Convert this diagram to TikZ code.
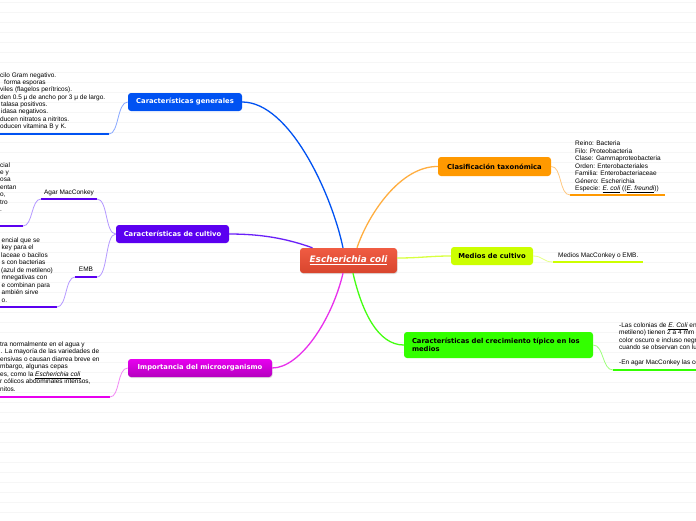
\documentclass[tikz,border=0pt]{standalone}
\usepackage{fontspec}
\setmainfont{Liberation Sans}
\newfontfamily\boxfont{DejaVu Sans}
\usetikzlibrary{shadows}
\definecolor{cblue}{HTML}{0052F2}
\definecolor{cblueS}{HTML}{88A8FF}
\definecolor{cpurple}{HTML}{5B00F0}
\definecolor{cpurpleC}{HTML}{6A20F8}
\definecolor{cpurpleS}{HTML}{B498FF}
\definecolor{cmagA}{HTML}{E800F0}
\definecolor{cmagB}{HTML}{B400BE}
\definecolor{cmagC}{HTML}{E830EC}
\definecolor{cmagS}{HTML}{F288F5}
\definecolor{corange}{HTML}{FF9900}
\definecolor{corangeC}{HTML}{FFAE40}
\definecolor{corangeS}{HTML}{FFC880}
\definecolor{cyg}{HTML}{CCFF00}
\definecolor{cygC}{HTML}{D8FF40}
\definecolor{cygS}{HTML}{E6FF88}
\definecolor{cgreen}{HTML}{33FF00}
\definecolor{cgreenC}{HTML}{44FF11}
\definecolor{cgreenS}{HTML}{9CFF7A}
\definecolor{credA}{HTML}{F05C43}
\definecolor{credB}{HTML}{D8452D}
\begin{document}
\begin{tikzpicture}[x=1pt,y=-1pt,
  box/.style={rounded corners=3pt, inner sep=0pt, align=center,
    font={\boxfont\bfseries\fontsize{6.8}{8}\selectfont}},
  body/.style={anchor=base west, inner sep=0pt, font={\fontsize{6.5}{7.5}\selectfont}},
  mainline/.style={line width=1.3pt},
  subline/.style={line width=0.8pt},
  uline/.style={line width=2.4pt},
  soft/.style={drop shadow={shadow xshift=0.6pt, shadow yshift=-1pt, opacity=0.25}}]
\useasboundingbox (0,0) rectangle (696,520);
\fill[white] (0,0) rectangle (696,520);
\foreach \k in {0,...,51} \draw[black!3.5, line width=0.5pt] (0,{2.7+10*\k}) -- (696,{2.7+10*\k});

% central node
\node[box, soft, top color=credA, bottom color=credB, text=white, minimum width=97pt, minimum height=25pt,
  font={\boxfont\bfseries\itshape\fontsize{8.9}{10}\selectfont}] (ec) at (348.5,260.5) {\underline{Escherichia coli}};

% main branch boxes
\node[box, fill=cblue, text=white, minimum width=114pt, minimum height=18pt] (gen) at (185,102) {Características generales};
\node[box, fill=cpurple, text=white, minimum width=113pt, minimum height=18pt] (cult) at (172.5,234) {Características de cultivo};
\node[box, soft, top color=cmagA, bottom color=cmagB, text=white, minimum width=144pt, minimum height=18pt] (imp) at (200,368) {Importancia del microorganismo};
\node[box, fill=corange, minimum width=113pt, minimum height=19pt] (clas) at (494.5,166.5) {Clasificación taxonómica};
\node[box, fill=cyg, minimum width=82pt, minimum height=18pt] (med) at (492,256) {Medios de cultivo};
\node[box, fill=cgreen, minimum width=189pt, minimum height=26pt, align=left, text width=173pt] (crec) at (498.5,345) {Características del crecimiento típico en los\\medios};

% main connectors
\draw[mainline, cblue] ([xshift=-5.5pt]ec.north) .. controls (332,195) and (290,102) .. (gen.east);
\draw[mainline, cpurpleC] ([xshift=-36pt]ec.north) .. controls (285,238) and (260,234) .. (cult.east);
\draw[mainline, cmagC] ([xshift=-5.5pt]ec.south) .. controls (332,320) and (300,368) .. (imp.east);
\draw[mainline, corangeC] ([xshift=8.5pt]ec.north) .. controls (368,215) and (400,166) .. (clas.west);
\draw[mainline, cygC] ([yshift=2.5pt]ec.east) .. controls (420,258) and (430,256) .. (med.west);
\draw[mainline, cgreenC] ([xshift=4.5pt]ec.south) .. controls (362,312) and (378,345) .. (crec.west);

% underline coordinates
\coordinate (genL) at (-2,134); \coordinate (genR) at (109,134);
\coordinate (agarL) at (41,199); \coordinate (agarR) at (97,199);
\coordinate (agtL) at (-2,226); \coordinate (agtR) at (23,226);
\coordinate (embL) at (75,277); \coordinate (embR) at (97,277);
\coordinate (emtL) at (-2,307); \coordinate (emtR) at (57,307);
\coordinate (impL) at (-2,397); \coordinate (impR) at (110,397);
\coordinate (clasL) at (570,195); \coordinate (clasR) at (665,195);
\coordinate (medL) at (553,262); \coordinate (medR) at (643,262);
\coordinate (crecL) at (613,370); \coordinate (crecR) at (700,370);

\draw[uline, cblue] (genL) -- (genR);
\draw[uline, cpurple] (agarL) -- (agarR);
\draw[uline, cpurple] (agtL) -- (agtR);
\draw[uline, cpurple] (embL) -- (embR);
\draw[uline, cpurple] (emtL) -- (emtR);
\draw[uline, cmagA] (impL) -- (impR);
\draw[uline, corange] (clasL) -- (clasR);
\draw[uline, cyg] (medL) -- (medR);
\draw[uline, cgreen] (crecL) -- (crecR);

% sub connectors
\draw[subline, cblueS] (gen.west) .. controls (117,102) and (119,134) .. (genR);
\draw[subline, cpurpleS] (cult.west) .. controls (105,234) and (108,199) .. (agarR);
\draw[subline, cpurpleS] (cult.west) .. controls (105,234) and (108,277) .. (embR);
\draw[subline, cpurpleS] (agarL) .. controls (31,199) and (33,226) .. (agtR);
\draw[subline, cpurpleS] (embL) .. controls (65,277) and (67,307) .. (emtR);
\draw[subline, cmagS] (imp.west) .. controls (117,368) and (120,397) .. (impR);
\draw[subline, corangeS] (clas.east) .. controls (562,166) and (559,195) .. (clasL);
\draw[subline, cygS] (med.east) .. controls (543,256) and (543,262) .. (medL);
\draw[subline, cgreenS] (crec.east) .. controls (604,345) and (602,370) .. (crecL);

% sub labels
\node[body, anchor=base] (agar) at (69,194) {Agar MacConkey};
\node[body, anchor=base] (emb) at (86,271) {EMB};

% text blocks
\foreach \dx/\t [count=\i] in {0/{cilo Gram negativo.}, 4/{forma esporas}, 0/{viles (flagelos perítricos).},
  0/{den 0.5 μ de ancho por 3 μ de largo.}, 1/{talasa positivos.}, 1/{idasa negativos.},
  0/{ducen nitratos a nitritos.}, 0/{oducen vitamina B y K.}}
  \node[body] (gt\i) at (\dx,{77+7.37*(\i-1)}) {\t};

\foreach \dx/\t [count=\i] in {0/{cial}, 0/{e y}, 0/{osa}, 0/{entan}, 0/{o,}, 0/{tro}, 0/{.}}
  \node[body] (at\i) at (\dx,{167+7.43*(\i-1)}) {\t};

\foreach \dx/\t [count=\i] in {1.5/{encial que se}, 1.5/{key para el}, 1/{laceae o bacilos}, 1.5/{s con bacterias},
  1/{(azul de metileno)}, 1.5/{mnegativas con}, 1.5/{e combinan para}, 1.5/{ambién sirve}, 1.5/{o.}}
  \node[body] (et\i) at (\dx,{242+7.54*(\i-1)}) {\t};

\foreach \dx/\t [count=\i] in {0/{tra normalmente en el agua y}, 0.5/{. La mayoría de las variedades de},
  0/{ensivas o causan diarrea breve en}, 0/{mbargo, algunas cepas},
  0/{es, como la \underline{\textit{Escherichia coli}}}, 0/{r cólicos abdominales intensos,}, 0/{nitos.}}
  \node[body] (it\i) at (\dx,{346.3+7.5*(\i-1)}) {\t};

\foreach \t [count=\i] in {{Reino: Bacteria}, {Filo: Proteobacteria}, {Clase: Gammaproteobacteria},
  {Orden: Enterobacteriales}, {Familia: Enterobacteriaceae}, {Género: Escherichia},
  {Especie: \underline{\textit{E. coli}} ((\underline{\textit{E. freundi}}))}}
  \node[body] (ct\i) at (575,{145.6+7.5*(\i-1)}) {\t};

\node[body] (mt) at (558,257.3) {Medios MacConkey o EMB.};

\foreach \n/\t in {1/{-Las colonias de \underline{\textit{E. Coli}} en}, 2/{metileno) tienen 2 a 4 mm},
  3/{color oscuro e incluso negr}, 4/{cuando se observan con lu}, 6/{-En agar MacConkey las co}}
  \node[body] (rt\n) at (619,{327.3+7.5*(\n-1)}) {\t};
\end{tikzpicture}
\end{document}
